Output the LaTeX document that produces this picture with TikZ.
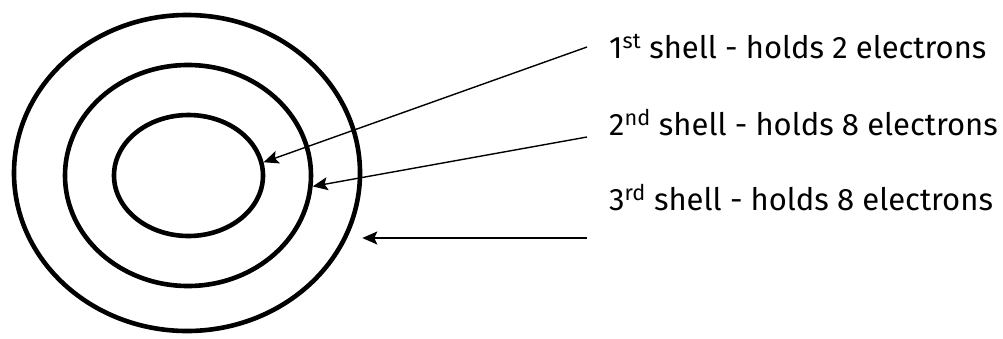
\documentclass[tikz,border=0pt]{standalone}
\usepackage{fontspec}
\setmainfont{Fira Sans}
\usetikzlibrary{positioning,arrows.meta,shapes.geometric}

\begin{document}
\begin{tikzpicture}[x=1pt, y=-1pt,
        shell/.style={draw, ellipse, line width=4.6pt, inner sep=0pt},
        lbl/.style={anchor=base west, font=\fontsize{31}{35}\selectfont, inner sep=0pt},
        arr/.style={-{Stealth[length=15pt, width=13pt, inset=3pt]}, line width=1.4pt}]
      \useasboundingbox (0,0) rectangle (1003,338);
      \node[shell, minimum width=346pt, minimum height=316pt] (outer) at (187,173) {};
      \node[shell, minimum width=246pt, minimum height=221pt] (middle) at (188,175.5) {};
      \node[shell, minimum width=149pt, minimum height=121pt] (inner) at (188.5,175.5) {};
      \node[lbl] (l1) at (609,58) {1\textsuperscript{st} shell - holds 2 electrons};
      \node[lbl] (l2) at (609,135) {2\textsuperscript{nd} shell - holds 8 electrons};
      \node[lbl] (l3) at (609,210) {3\textsuperscript{rd} shell - holds 8 electrons};
      \coordinate (s1) at (587,47);
      \coordinate (s2) at (587,137);
      \coordinate (s3) at (587,238);
      \draw[arr] (s1) -- (inner.10);
      \draw[arr] (s2) -- (middle.-5);
      \draw[arr] (s3) -- (s3 -| outer.east);
\end{tikzpicture}
\end{document}
